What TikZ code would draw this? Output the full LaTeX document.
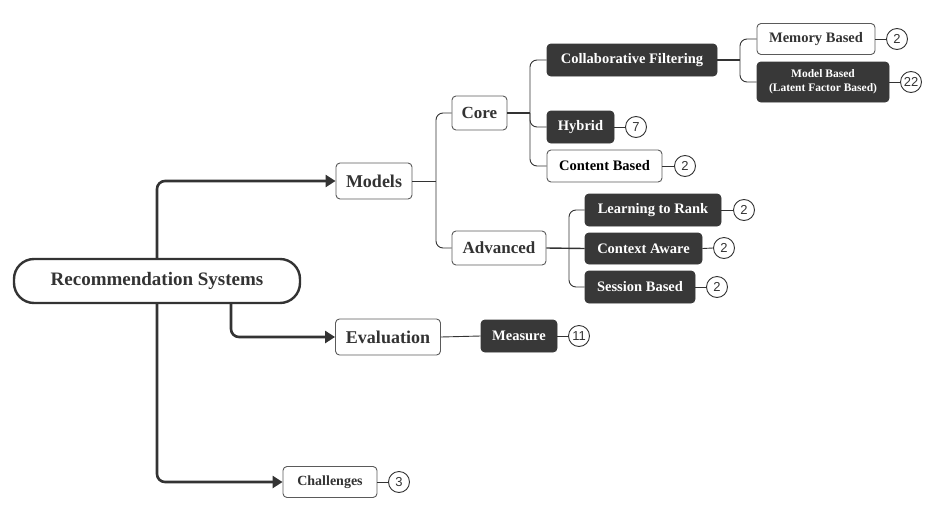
\documentclass[tikz,border=0pt]{standalone}
\usepackage{fontspec}
\setmainfont{Liberation Serif}
\newfontfamily\numfont{Liberation Sans}
\usetikzlibrary{arrows.meta}
\definecolor{ink}{HTML}{333333}
\definecolor{dk}{HTML}{383838}
\definecolor{edge}{HTML}{5A5A5A}
\begin{document}
\begin{tikzpicture}[x=1pt,y=-1pt,
  box/.style={draw=edge,line width=0.9pt,rounded corners=4pt,fill=white,text=ink,font=\bfseries,inner sep=0pt,minimum height=32pt,align=center},
  dark/.style={box,fill=dk,draw=dk,text=white},
  cnt/.style={draw=ink,line width=0.9pt,circle,minimum size=21pt,inner sep=0pt,font=\numfont\fontsize{13}{13}\selectfont,text=ink},
  thick/.style={draw=ink,line width=2.6pt,rounded corners=8pt,-{Triangle[length=10pt,width=12pt]}},
  thin/.style={draw=ink,line width=0.9pt,rounded corners=7pt}]
\useasboundingbox (0,0) rectangle (930,517);
\node[box,draw=ink,line width=2.4pt,rounded corners=20pt,minimum width=286pt,minimum height=44pt,font=\bfseries\fontsize{19}{19}\selectfont] (root) at (157,281) {Recommendation Systems};
\node[box,minimum width=76pt,minimum height=36pt,font=\bfseries\fontsize{18}{18}\selectfont] (models) at (374,181) {Models};
\node[box,minimum width=105pt,minimum height=36pt,font=\bfseries\fontsize{18}{18}\selectfont] (eval) at (388,337) {Evaluation};
\node[box,minimum width=94pt,minimum height=31pt,font=\bfseries\fontsize{14}{14}\selectfont] (chal) at (330,482) {Challenges};
\node[cnt] (c3) at (399,482) {3};
\node[box,minimum width=55pt,minimum height=34pt,font=\bfseries\fontsize{17}{17}\selectfont] (core) at (479.5,113) {Core};
\node[box,minimum width=94pt,minimum height=34pt,font=\bfseries\fontsize{17}{17}\selectfont] (adv) at (499,248) {Advanced};
\node[dark,minimum width=170pt,font=\bfseries\fontsize{14.5}{14.5}\selectfont] (cf) at (632,60) {Collaborative Filtering};
\node[dark,minimum width=67pt,font=\bfseries\fontsize{14.5}{14.5}\selectfont] (hyb) at (580.5,127) {Hybrid};
\node[cnt] (c7) at (636,127) {7};
\node[box,minimum width=115pt,font=\bfseries\fontsize{14.5}{14.5}\selectfont,text=black] (cb) at (604.5,166) {Content Based};
\node[cnt] (ccb) at (685,166) {2};
\node[box,minimum width=118pt,minimum height=31pt,font=\bfseries\fontsize{14.5}{14.5}\selectfont] (mem) at (816,39) {Memory Based};
\node[cnt] (cmem) at (897,39) {2};
\node[dark,minimum width=132pt,minimum height=40pt,font=\bfseries\fontsize{11.5}{14}\selectfont] (mb) at (823,82) {Model Based\\(Latent Factor Based)};
\node[cnt] (cmb) at (911,82) {22};
\node[dark,minimum width=136pt,font=\bfseries\fontsize{14.5}{14.5}\selectfont] (ltr) at (653,210) {Learning to Rank};
\node[cnt] (cltr) at (744,210) {2};
\node[dark,minimum width=117pt,minimum height=31pt,font=\bfseries\fontsize{14.5}{14.5}\selectfont] (ca) at (643.5,248.5) {Context Aware};
\node[cnt] (cca) at (724,248) {2};
\node[dark,minimum width=110pt,font=\bfseries\fontsize{14.5}{14.5}\selectfont] (sb) at (640,287) {Session Based};
\node[cnt] (csb) at (717,287) {2};
\node[dark,minimum width=76pt,font=\bfseries\fontsize{14.5}{14.5}\selectfont] (meas) at (519,336) {Measure};
\node[cnt] (cmeas) at (579,336) {11};
% thick connectors
\draw[thick] (root.north) ++(0,0) coordinate (rt) -- (157,181) -- (models.west);
\draw[thick] (231,303) -- (231,337) -- (eval.west);
\draw[thick] (157,303) -- (157,482) -- (chal.west);
% thin connectors
\draw[thin] (models.east) -- (436,181);
\draw[thin] (core.west) -| (436,181) |- (adv.west);
\draw[thin,line width=1.4pt] (core.east) -- (530,113);
\draw[thin] (cf.west) -| (530,113) |- (cb.west);
\draw[thin] (530,113) |- (hyb.west);
\draw[thin,line width=1.4pt] (cf.east) -- (740,60);
\draw[thin] (mem.west) -| (740,60) |- (mb.west);
\draw[thin,line width=1.4pt] (adv.east) -- (ca.west);
\draw[thin] (ltr.west) -| (569,248) |- (sb.west);
\draw[thin] (eval.east) -- (meas.west);
\foreach \a/\b in {chal/c3,hyb/c7,cb/ccb,mem/cmem,mb/cmb,ltr/cltr,ca/cca,sb/csb,meas/cmeas}
  \draw[thin] (\a.east) -- (\b.west);
\end{tikzpicture}
\end{document}
